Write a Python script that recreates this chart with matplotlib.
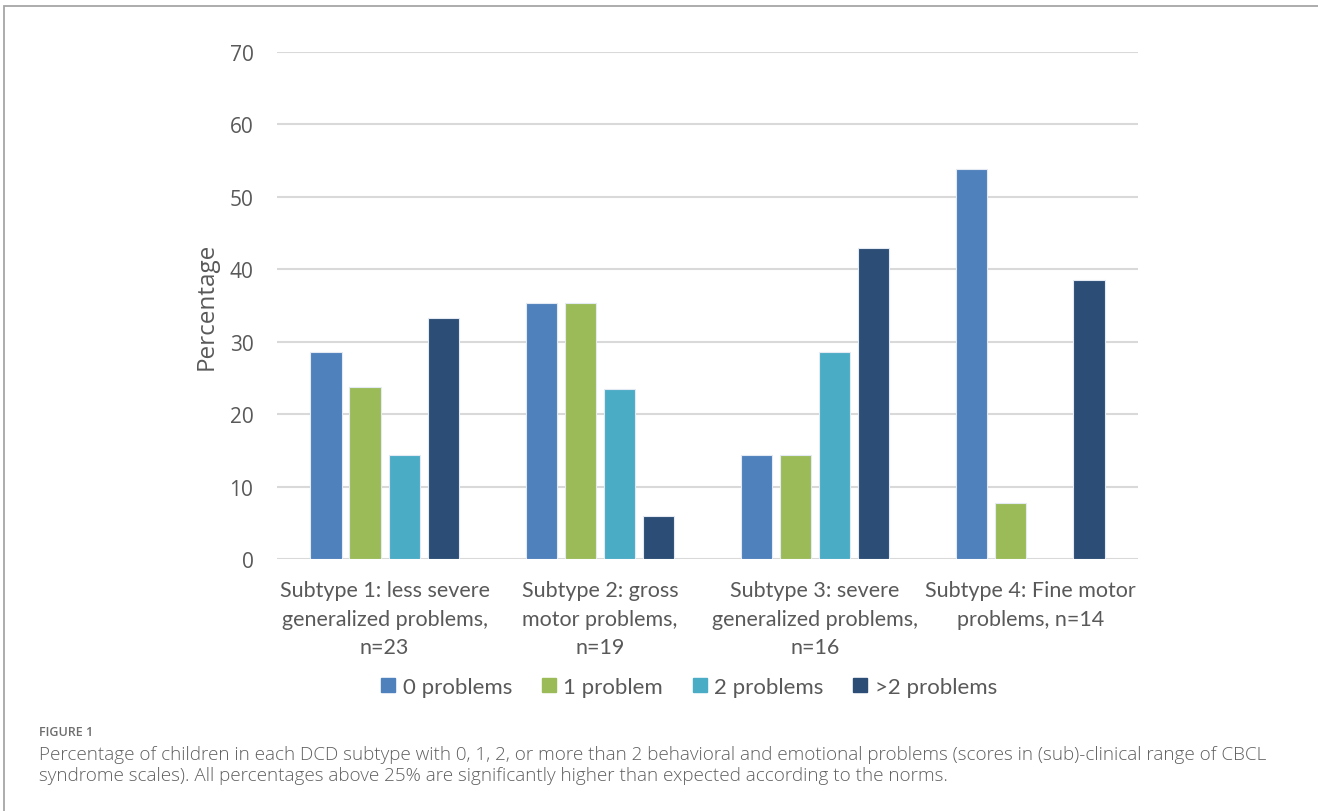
import numpy as np
import matplotlib
matplotlib.use("Agg")
import matplotlib.pyplot as plt
from matplotlib.patches import Rectangle
from matplotlib.lines import Line2D

# percentage of children per subtype, by number of problems
categories = ["Subtype 1: less severe\ngeneralized problems,\nn=23",
              "Subtype 2: gross\nmotor problems,\nn=19",
              "Subtype 3: severe\ngeneralized problems,\nn=16",
              "Subtype 4: Fine motor\nproblems, n=14"]
series_names = ["0 problems", "1 problem", "2 problems", ">2 problems"]
zero_problems = [28.6, 35.3, 14.3, 53.8]
one_problem = [23.8, 35.3, 14.3, 7.7]
two_problems = [14.3, 23.5, 28.6, 0.0]
more_problems = [33.3, 5.9, 42.9, 38.5]
colors = ["#4F81BD", "#9BBB59", "#4BACC6", "#2C4D75"]

caption_head = "FIGURE 1"
caption_lines = ["Percentage of children in each DCD subtype with 0, 1, 2, or more than 2 behavioral and emotional problems (scores in (sub)-clinical range of CBCL",
                 "syndrome scales). All percentages above 25% are significantly higher than expected according to the norms."]

txt = "#595959"
sans = ['Open Sans', 'DejaVu Sans']
plt.rcParams['font.family'] = ['Lato', 'DejaVu Sans']

fig = plt.figure(figsize=(13.18, 8.12), dpi=100)
ax = fig.add_axes([0.2102, 0.3103, 0.6532, 0.6244])

values = [zero_problems, one_problem, two_problems, more_problems]
x = np.arange(len(categories))
w = 0.145
step = 0.182
for i, (vals, c) in enumerate(zip(values, colors)):
    ax.bar(x + (i - 1.5) * step, vals, width=w, color=c,
           edgecolor="#E4EAF3", linewidth=0.8, zorder=3, label=series_names[i])

ax.set_xlim(-0.5, len(categories) - 0.5)
ax.set_ylim(0, 70)
ax.set_yticks(range(0, 71, 10))
ax.grid(axis="y", color="#D9D9D9", linewidth=1.5, zorder=0)
for s in ax.spines.values():
    s.set_visible(False)
ax.tick_params(axis="both", length=0, colors=txt)
ax.tick_params(axis="y", pad=17)
ax.tick_params(axis="x", pad=15)
for t in ax.get_yticklabels():
    t.set_fontfamily(sans)
    t.set_fontsize(15)
ax.set_xticks(x)
ax.set_xticklabels(categories, linespacing=1.55, fontsize=15.5)
ax.set_ylabel("Percentage", fontsize=17.5, color=txt, labelpad=8, family=sans)

handles = [Line2D([], [], marker="s", linestyle="none", markersize=9.5,
                  markerfacecolor=c, markeredgecolor=c) for c in colors]
fig.legend(handles, series_names, loc="center", bbox_to_anchor=(0.523, 0.153),
           ncol=4, frameon=False, fontsize=16, labelcolor=txt,
           handletextpad=0.35, columnspacing=1.35, handlelength=0.6)

# surrounding frame
fig.add_artist(Rectangle((0.003, -0.02), 1.05, 0.9914 + 0.02, transform=fig.transFigure,
                         fill=False, edgecolor="#A6A6A6", linewidth=1.3))

fig.text(0.0296, 1 - 736 / 812, caption_head, fontsize=9, color="#6E6E6E",
         family=sans, fontweight="semibold", va="baseline")

# fit the first caption line to the frame width
cap = [fig.text(0.0296, 1 - yb / 812, line, fontsize=13, color="#606060",
                family=sans, fontweight="light", va="baseline")
       for line, yb in zip(caption_lines, [760, 781])]
fig.canvas.draw()
wpx = cap[0].get_window_extent().width
for t in cap:
    t.set_fontsize(13 * 1221 / wpx)

fig.savefig("out.png", dpi=100)
